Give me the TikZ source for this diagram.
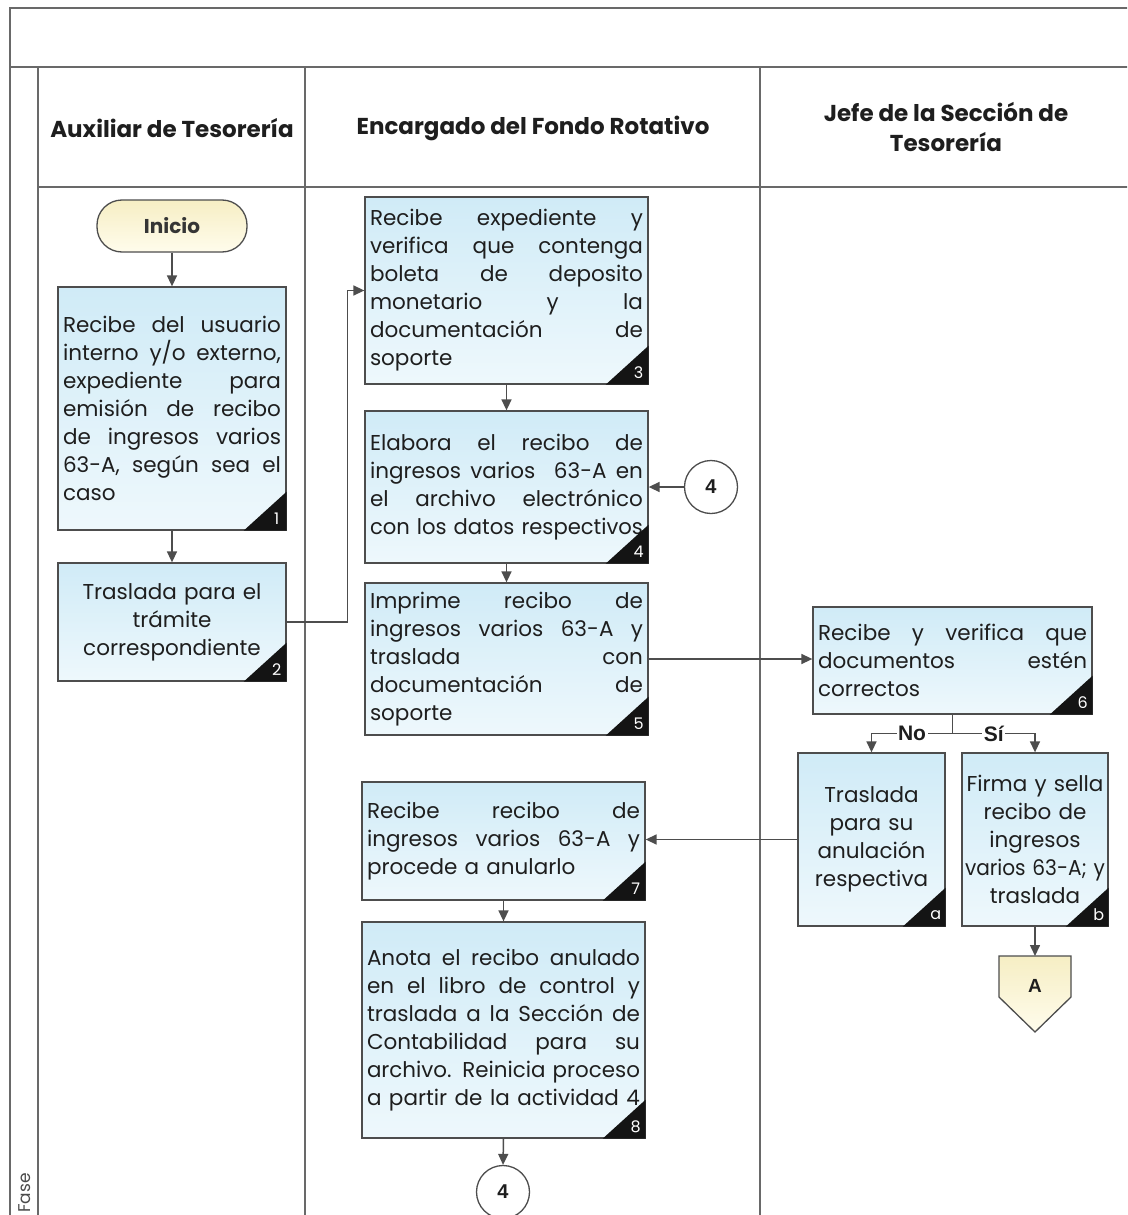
\documentclass[tikz,border=0pt]{standalone}
\usepackage{fontspec}
\usepackage{graphicx}
\setmainfont{Poppins}
\newfontfamily\arialb{Liberation Sans}
\usetikzlibrary{arrows.meta}

\definecolor{linec}{RGB}{77,77,77}
\definecolor{tblc}{RGB}{105,105,105}
\definecolor{boxtop}{RGB}{208,235,247}
\definecolor{boxbot}{RGB}{238,248,252}
\definecolor{yeltop}{RGB}{246,238,196}
\definecolor{yelbot}{RGB}{255,252,236}
\definecolor{txt}{RGB}{30,30,30}

\newlength\jlw
\newcommand\jl[1]{\settowidth\jlw{#1}\ifdim\jlw>\linewidth\resizebox{\linewidth}{\height}{#1}\else\makebox[\linewidth][s]{\spaceskip=\fontdimen2\font plus 1fil\xspaceskip=\spaceskip\relax #1}\fi}
\newcommand\cl[1]{\settowidth\jlw{#1}\ifdim\jlw>\linewidth\resizebox{\linewidth}{\height}{#1}\else\mbox{#1}\fi}
\newcommand\corner[2]{%
  \fill[black!92] (#1.south east) -- ++(-43,0) -- ++(43,-39) -- cycle;
  \path (#1.south east) ++(-10,-12) node[num] {#2};}

\tikzset{
  tbl/.style={draw=tblc, line width=1.3pt},
  box/.style={draw=linec, line width=1.3pt, top color=boxtop, bottom color=boxbot,
    inner sep=0pt, align=left, text=txt, font=\fontsize{21.5}{28}\selectfont},
  cbox/.style={box, align=center},
  ini/.style={draw=linec, line width=1.3pt, rounded corners=25pt, top color=yeltop,
    bottom color=yelbot, minimum width=150pt, minimum height=52pt,
    font=\bfseries\fontsize{20}{22}\selectfont, text=txt!90},
  hdr/.style={font=\bfseries\fontsize{23}{30}\selectfont, text=txt, align=center},
  num/.style={text=white, font=\fontsize{16}{16}\selectfont, inner sep=0pt},
  circ/.style={circle, draw=linec, line width=1.3pt, fill=white, minimum size=53pt,
    inner sep=0pt, font=\arialb\bfseries\fontsize{20}{20}\selectfont, text=txt},
  lbl/.style={fill=white, inner sep=1.5pt, font=\arialb\bfseries\fontsize{21}{21}\selectfont, text=txt},
  arr/.style={draw=linec, line width=1.5pt, -{Triangle[length=11pt,width=10pt]}},
  ln/.style={draw=linec, line width=1.5pt}
}

\begin{document}
\begin{tikzpicture}[x=1pt,y=-1pt]
\useasboundingbox (0,0) rectangle (1127,1215);
\clip (0,0) rectangle (1127,1215);
\fill[white] (0,0) rectangle (1127,1215);

% table frame
\draw[tbl] (10,1230) -- (10,8) -- (1140,8);
\draw[tbl] (10,67) -- (1140,67);
\draw[tbl] (38,67) -- (38,1230);
\draw[tbl] (38,187) -- (1140,187);
\draw[tbl] (305,67) -- (305,1230);
\draw[tbl] (760,67) -- (760,1230);

% headers
\node[hdr] (h1) at (172,128) {Auxiliar de Tesorería};
\node[hdr] (h2) at (533,128) {Encargado del Fondo Rotativo};
\node[hdr] (h3) at (946,127) {Jefe de la Sección de\\Tesorería};
\node[rotate=90, font=\fontsize{17}{17}\selectfont, text=txt!80] (fase) at (25,1193) {Fase};

% column 1
\node[ini] (ini) at (172,226) {Inicio};
\node[box, minimum width=228pt, minimum height=243pt, text width=218pt] (b1) at (172,408.5)
 {\jl{Recibe del usuario}\\\jl{interno y/o externo,}\\\jl{expediente para}\\\jl{emisión de recibo}\\\jl{de ingresos varios}\\\jl{63-A, según sea el}\\caso};
\node[cbox, minimum width=228pt, minimum height=118pt, text width=218pt] (b2) at (172,622)
 {\cl{Traslada para el}\\\cl{trámite}\\\cl{correspondiente}};

% column 2
\node[box, minimum width=283pt, minimum height=187pt, text width=273pt] (b3) at (506.5,290.5)
 {\jl{Recibe expediente y}\\\jl{verifica que contenga}\\\jl{boleta de deposito}\\\jl{monetario y la}\\\jl{documentación de}\\soporte};
\node[box, minimum width=283pt, minimum height=152pt, text width=273pt] (b4) at (506.5,487)
 {\jl{Elabora el recibo de}\\\jl{ingresos varios\ \ 63-A en}\\\jl{el archivo electrónico}\\\jl{con los datos respectivos}};
\node[box, minimum width=283pt, minimum height=152pt, text width=273pt] (b5) at (506.5,659)
 {\jl{Imprime recibo de}\\\jl{ingresos varios 63-A y}\\\jl{traslada con}\\\jl{documentación de}\\soporte};
\node[box, minimum width=283pt, minimum height=118pt, text width=273pt] (b7) at (503.5,841)
 {\jl{Recibe recibo de}\\\jl{ingresos varios 63-A y}\\procede a anularlo};
\node[box, minimum width=283pt, minimum height=216pt, text width=273pt] (b8) at (503.5,1030)
 {\jl{Anota el recibo anulado}\\\jl{en el libro de control y}\\\jl{traslada a la Sección de}\\\jl{Contabilidad para su}\\\jl{archivo. Reinicia proceso}\\\jl{a partir de la actividad 4}};
\node[circ] (c4r) at (711,487) {4};
\node[circ] (c4b) at (503,1192) {4};

% column 3
\node[box, minimum width=279pt, minimum height=107pt, text width=269pt] (b6) at (952.5,660.5)
 {\jl{Recibe y verifica que}\\\jl{documentos estén}\\correctos};
\node[cbox, minimum width=147pt, minimum height=173pt, text width=139pt] (ba) at (871.5,839.5)
 {\cl{Traslada}\\\cl{para su}\\\cl{anulación}\\\cl{respectiva}};
\node[cbox, minimum width=146pt, minimum height=173pt, text width=140pt] (bb) at (1035,839.5)
 {\cl{Firma y sella}\\\cl{recibo de}\\\cl{ingresos}\\\jl{varios 63-A; y}\\\cl{traslada}};

% off-page connector A
\shade[top color=yeltop, bottom color=yelbot, draw=linec, line width=1.3pt]
  (999,956) -- (1071,956) -- (1071,997) -- (1035,1032) -- (999,997) -- cycle;
\node[font=\arialb\bfseries\fontsize{19}{19}\selectfont, text=txt] (pA) at (1035,986) {A};
\coordinate (Atop) at (1035,956);

% corner marks
\corner{b1}{1}
\corner{b2}{2}
\corner{b3}{3}
\corner{b4}{4}
\corner{b5}{5}
\corner{b6}{6}
\corner{ba}{a}
\corner{bb}{b}
\corner{b7}{7}
\corner{b8}{8}

% connectors
\draw[arr] (ini.south) -- (b1.north);
\draw[arr] (b1.south) -- (b2.north);
\draw[arr] (b2.east) -- ++(61,0) |- (b3.west);
\draw[arr] (b3.south) -- (b4.north);
\draw[arr] (b4.south) -- (b5.north);
\draw[arr] (c4r.west) -- (c4r.west -| b4.east);
\draw[arr] (b5.east) -- (b5.east -| b6.west);
\draw[ln] (b6.south) -- ++(0,19) coordinate (split);
\draw[arr] (split) -| (ba.north) node[lbl, pos=0.25] {No};
\draw[arr] (split) -| (bb.north) node[lbl, pos=0.25] {Sí};
\draw[arr] (ba.west) -- (ba.west -| b7.east);
\draw[arr] (bb.south) -- (Atop);
\draw[arr] (b7.south) -- (b8.north);
\draw[arr] (b8.south) -- (c4b.north);
\end{tikzpicture}
\end{document}
